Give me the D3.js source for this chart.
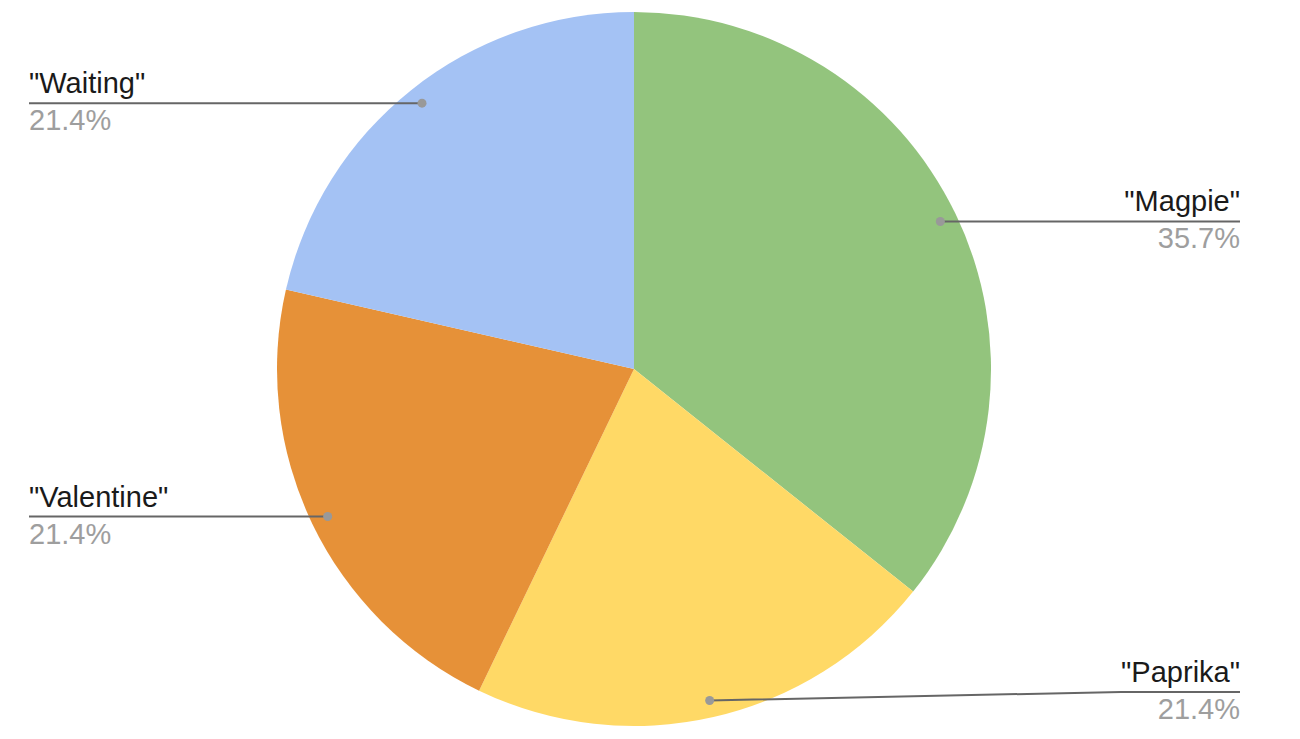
<!DOCTYPE html>
<html>
<head>
<meta charset="utf-8">
<script src="https://cdn.jsdelivr.net/npm/d3@7"></script>
<style>
  html, body { margin: 0; padding: 0; background: #fff; }
  svg { display: block; }
  text { font-family: "Liberation Sans", Arial, Helvetica, sans-serif; }
</style>
</head>
<body>
<svg id="chart" width="1300" height="739"></svg>
<script>
const categories = ['"Magpie"', '"Paprika"', '"Valentine"', '"Waiting"'];
const values = [5, 3, 3, 3];
const colors = ["#93c47d", "#ffd966", "#e69138", "#a4c2f4"];

const W = 1300, H = 739;
const cx = 634, cy = 369, R = 357;
const dotR = 340;
const leftX = 29, rightX = 1240;
const fontSize = 29;

const svg = d3.select("#chart");
const g = svg.append("g").attr("transform", `translate(${cx},${cy})`);

const total = d3.sum(values);
const data = categories.map((c, i) => ({ name: c, value: values[i], color: colors[i] }));
const pie = d3.pie().value(d => d.value).sort(null);
const arcs = pie(data);
const arc = d3.arc().innerRadius(0).outerRadius(R);

g.selectAll("path.slice").data(arcs).enter().append("path")
  .attr("class", "slice")
  .attr("d", arc)
  .attr("fill", d => d.data.color);

const fmt = d3.format(".1%");

arcs.forEach(a => {
  const mid = (a.startAngle + a.endAngle) / 2;
  const dx = cx + dotR * Math.sin(mid);
  const dy = cy - dotR * Math.cos(mid);
  const right = Math.sin(mid) > 0;
  let ly = Math.min(dy, H - 47);
  const anchorX = right ? rightX : leftX;

  const name = svg.append("text")
    .attr("x", anchorX).attr("y", ly - 10)
    .attr("text-anchor", right ? "end" : "start")
    .attr("font-size", fontSize).attr("fill", "#1a1a1a")
    .text(a.data.name);
  const tw = name.node().getComputedTextLength();
  svg.append("text")
    .attr("x", anchorX).attr("y", ly + 27)
    .attr("text-anchor", right ? "end" : "start")
    .attr("font-size", fontSize).attr("fill", "#9e9e9e")
    .text(fmt(a.data.value / total));

  const textEdge = right ? rightX - tw : leftX + tw;
  const pts = right
    ? [[dx, dy], [textEdge, ly], [rightX, ly]]
    : [[dx, dy], [textEdge, ly], [leftX, ly]];
  svg.append("path")
    .attr("d", d3.line()(pts))
    .attr("fill", "none").attr("stroke", "#666").attr("stroke-width", 2);
  svg.append("circle")
    .attr("cx", dx).attr("cy", dy).attr("r", 4.5)
    .attr("fill", "#999");
});
</script>
</body>
</html>
